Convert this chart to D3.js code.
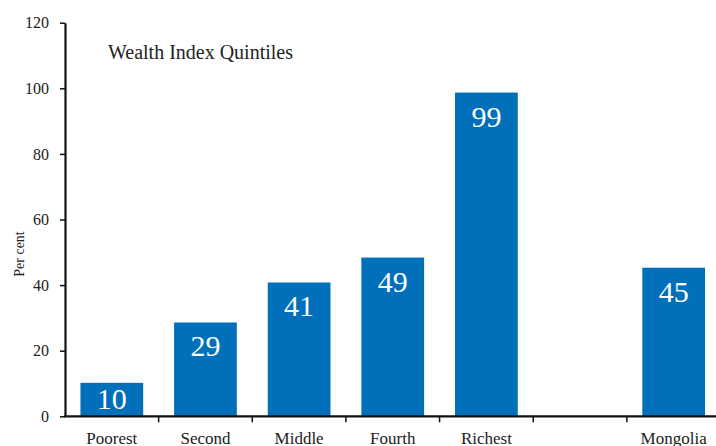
<!DOCTYPE html>
<html>
<head>
<meta charset="utf-8">
<script src="https://cdn.jsdelivr.net/npm/d3@7"></script>
<style>
  html, body { margin: 0; padding: 0; background: #fff; }
  svg { display: block; }
  text { font-family: "Liberation Serif", "Times New Roman", serif; }
</style>
</head>
<body>
<script>
const categories = ["Poorest", "Second", "Middle", "Fourth", "Richest", "", "Mongolia"];
const values = [10.2, 28.6, 40.8, 48.4, 98.7, null, 45.3];
const valueLabels = ["10", "29", "41", "49", "99", "", "45"];
const yTicks = [0, 20, 40, 60, 80, 100, 120];
const chartTitle = "Wealth Index Quintiles";
const yTitle = "Per cent";

const W = 716, H = 446;
const svg = d3.select("body").append("svg").attr("width", W).attr("height", H);

const mLeft = 65, mRight = 720.5, mTop = 22.7, mBottom = 416.3;
const idx = categories.map((d, i) => i);
const x = d3.scaleBand().domain(idx).range([mLeft, mRight]).paddingInner(0.33).paddingOuter(0.165);
const y = d3.scaleLinear().domain([0, 120]).range([mBottom, mTop]);

// bars
const data = idx.filter(i => values[i] != null);
svg.selectAll("rect.bar").data(data).enter().append("rect")
  .attr("class", "bar")
  .attr("x", i => x(i))
  .attr("width", x.bandwidth())
  .attr("y", i => y(values[i]))
  .attr("height", i => y(0) - y(values[i]))
  .attr("fill", "#0070BA");

// value labels
svg.selectAll("text.val").data(data).enter().append("text")
  .attr("class", "val")
  .attr("x", i => x(i) + x.bandwidth() / 2)
  .attr("y", i => Math.min(y(values[i]) + 34, y(0) - 7))
  .attr("text-anchor", "middle")
  .attr("fill", "#fff")
  .attr("font-size", "30px")
  .text(i => valueLabels[i]);

// y axis
const yAxis = svg.append("g").attr("transform", `translate(${mLeft},0)`)
  .call(d3.axisLeft(y).tickValues(yTicks).tickSize(5).tickPadding(11).tickSizeOuter(0));
yAxis.select(".domain").attr("stroke", "#111").attr("stroke-width", 2.2);
yAxis.selectAll(".tick line").attr("stroke", "#111").attr("stroke-width", 1.5);
yAxis.selectAll(".tick text").attr("font-size", "16px").attr("fill", "#222")
  .attr("font-family", "Liberation Serif");

// x axis
const xg = svg.append("g");
xg.append("line").attr("x1", mLeft - 1).attr("x2", mRight).attr("y1", y(0)).attr("y2", y(0))
  .attr("stroke", "#111").attr("stroke-width", 2.2);
const step = x.step();
const bounds = d3.range(1, categories.length + 1).map(i => mLeft + step * i);
xg.selectAll("line.tk").data(bounds).enter().append("line")
  .attr("class", "tk")
  .attr("x1", d => d).attr("x2", d => d)
  .attr("y1", y(0)).attr("y2", y(0) + 6)
  .attr("stroke", "#111").attr("stroke-width", 1.5);
xg.selectAll("text.cat").data(idx).enter().append("text")
  .attr("class", "cat")
  .attr("x", i => x(i) + x.bandwidth() / 2)
  .attr("y", 444)
  .attr("text-anchor", "middle")
  .attr("font-size", "17px")
  .attr("fill", "#222")
  .text(i => categories[i]);

// title inside plot
svg.append("text").attr("x", 108).attr("y", 59)
  .attr("font-size", "20px").attr("fill", "#222").text(chartTitle);

// y title
svg.append("text")
  .attr("transform", `translate(24,254) rotate(-90)`)
  .attr("text-anchor", "middle")
  .attr("font-size", "14px").attr("fill", "#222")
  .text(yTitle);
</script>
</body>
</html>
